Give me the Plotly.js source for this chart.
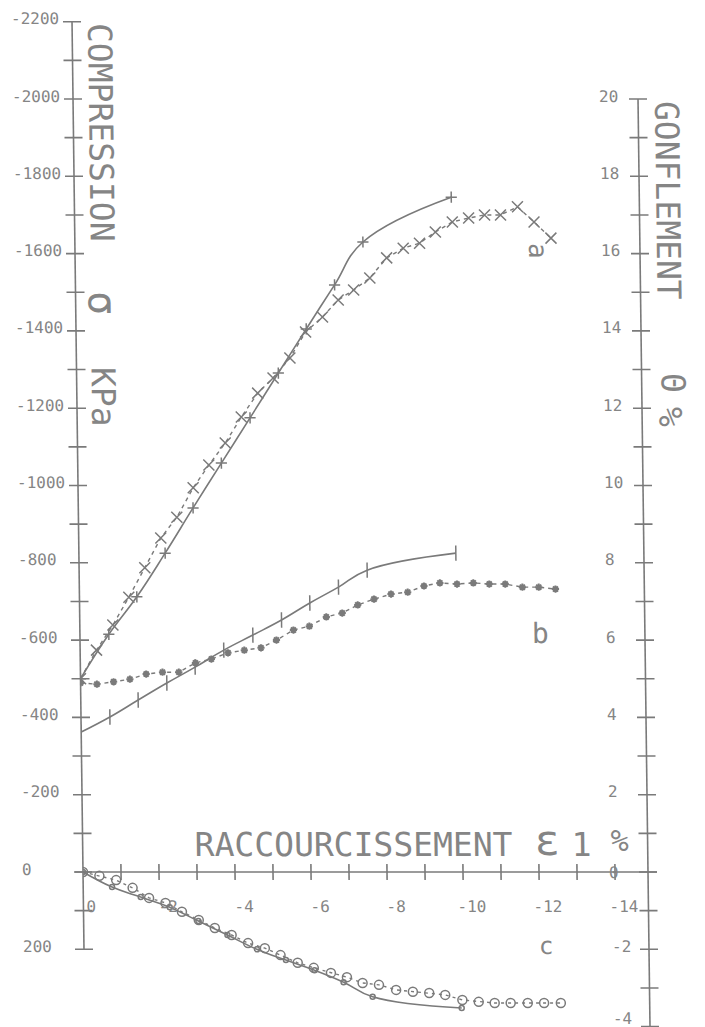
<!DOCTYPE html>
<html>
<head>
<meta charset="utf-8">
<script src="https://cdn.plot.ly/plotly-3.0.1.min.js"></script>
<style>
  html, body { margin: 0; padding: 0; background: #ffffff; }
  #chart { width: 705px; height: 1027px; transform: skewX(0.74deg); transform-origin: 0 872px; }
</style>
</head>
<body>
<div id="chart"></div>
<script>
// ---- data ----
// strain (RACCOURCISSEMENT ε1 %), dense series (dashed curves)
const strainDense = [0, -0.43, -0.87, -1.30, -1.73, -2.16, -2.59, -3.03, -3.45, -3.89, -4.32, -4.76, -5.17, -5.62, -6.04,
  -6.49, -6.91, -7.32, -7.75, -8.20, -8.64, -9.07, -9.49, -9.94, -10.37, -10.79, -11.21, -11.66, -12.09, -12.53];
// strain, sparse series (solid curves)
const strainSparse = [0, -0.76, -1.51, -2.27, -3.02, -3.78, -4.55, -5.31, -6.06, -6.82, -7.58, -9.92];

// curve a : compression σ (kPa)
const aSolid  = [-500, -615, -712, -825, -942, -1058, -1175, -1291, -1405, -1519, -1630, -1746];
const aDashed = [-500, -574, -639, -711, -787, -864, -918, -994, -1053, -1110, -1177, -1239, -1278, -1330, -1397,
  -1436, -1480, -1506, -1537, -1589, -1614, -1627, -1656, -1682, -1692, -1700, -1700, -1721, -1682, -1640];
// curve b : compression σ (kPa)
const bSolid  = [-362, -401, -445, -489, -530, -574, -613, -652, -696, -737, -781, -825];
const bDotted = [-489, -486, -492, -499, -512, -517, -517, -541, -551, -567, -574, -580, -600, -626, -636,
  -660, -670, -691, -706, -719, -724, -740, -748, -745, -748, -745, -745, -737, -737, -732];
// curve c : gonflement θ (%)
const cSolid  = [0, -0.39, -0.65, -0.91, -1.27, -1.63, -2.00, -2.28, -2.54, -2.85, -3.23, -3.52];
const cDashed = [0, -0.10, -0.21, -0.41, -0.67, -0.80, -1.03, -1.24, -1.45, -1.63, -1.84, -1.97, -2.15, -2.35, -2.48,
  -2.61, -2.72, -2.87, -2.92, -3.05, -3.10, -3.13, -3.18, -3.31, -3.36, -3.39, -3.39, -3.39, -3.39, -3.39];

// tick labels
const sigmaTickVals = [-2200, -2000, -1800, -1600, -1400, -1200, -1000, -800, -600, -400, -200, 0, 200];
const sigmaTickText = ["-2200", "-2000", "-1800", "-1600", "-1400", "-1200", "-1000", "-800", "-600", "-400", "-200", "0", "200"];
const thetaTickVals = [20, 18, 16, 14, 12, 10, 8, 6, 4, 2, 0, -2, -4];
const thetaTickText = ["20", "18", "16", "14", "12", "10", "8", "6", "4", "2", "0", "-2", "-4"];
const strainTickVals = [0, -2, -4, -6, -8, -10, -12, -14];
const strainTickText = ["0", "-2", "-4", "-6", "-8", "-10", "-12", "-14"];

// ---- layout geometry ----
const W = 705, H = 1027, L = 83, R = 648;
const PW = R - L;
const px = v => (v - L) / PW;          // pixel x -> paper
const py = v => (H - v) / H;           // pixel y -> paper
const ink = '#7a7a7a';
const txt = '#858585';
const mono = 'DejaVu Sans Mono, Liberation Mono, monospace';

const solidLine = { color: ink, width: 1.6, shape: 'spline', smoothing: 1.2 };
const traces = [
  { x: strainSparse, y: aSolid, mode: 'lines+markers', line: solidLine,
    marker: { symbol: 'cross-thin', size: 8, color: ink, line: { width: 1.5, color: ink } } },
  { x: strainDense, y: aDashed, mode: 'lines+markers', line: { color: ink, width: 1.4, dash: '4px,4px' },
    marker: { symbol: 'x-thin', size: 11, color: ink, line: { width: 1.5, color: ink } } },
  { x: strainSparse, y: bSolid, mode: 'lines+markers', line: solidLine,
    marker: { symbol: 'line-ns', size: 11, color: ink, line: { width: 1.5, color: ink } } },
  { x: strainDense, y: bDotted, mode: 'lines+markers', line: { color: ink, width: 1.4, dash: '4px,4px' },
    marker: { symbol: 'asterisk', size: 6, color: ink, line: { width: 2, color: ink } } },
  { x: strainSparse, y: cSolid, yaxis: 'y2', mode: 'lines+markers', line: solidLine,
    marker: { symbol: 'circle-open', size: 5, color: ink, line: { width: 1.5, color: ink } } },
  { x: strainDense, y: cDashed, yaxis: 'y2', mode: 'lines+markers', line: { color: ink, width: 1.4, dash: '3px,4px' },
    marker: { symbol: 'circle-open', size: 9, color: ink, line: { width: 1.5, color: ink } } }
];

const shapes = [];
const lineStyle = { color: ink, width: 1.6 };
// axis lines
shapes.push({ type: 'line', xref: 'paper', yref: 'y', x0: 0, x1: 0, y0: -2200, y1: 200, line: lineStyle });
shapes.push({ type: 'line', xref: 'paper', yref: 'y2', x0: 1, x1: 1, y0: 20, y1: -4.5, line: lineStyle });
shapes.push({ type: 'line', xref: 'paper', yref: 'y', x0: px(75), x1: px(657), y0: 0, y1: 0, line: lineStyle });
// crossing ticks
for (let v = -2200; v <= 200; v += 100) {
  shapes.push({ type: 'line', xref: 'paper', yref: 'y', x0: px(L - 9), x1: px(L + 9), y0: v, y1: v, line: lineStyle });
}
for (let v = 20; v >= -4; v -= 1) {
  shapes.push({ type: 'line', xref: 'paper', yref: 'y2', x0: px(R - 9), x1: px(R + 9), y0: v, y1: v, line: lineStyle });
}
for (let v = -1; v >= -14; v -= 1) {
  shapes.push({ type: 'line', xref: 'x', yref: 'y', x0: v, x1: v, ysizemode: 'pixel', yanchor: 0, y0: -8, y1: 8, line: lineStyle });
}

const annotations = [];
const tickFont = { family: mono, size: 16, color: txt };
sigmaTickVals.forEach((v, i) => annotations.push({ xref: 'paper', yref: 'y', x: px(20), y: v, yshift: 3,
  xanchor: 'left', yanchor: 'middle', text: sigmaTickText[i], showarrow: false, font: tickFont }));
thetaTickVals.forEach((v, i) => annotations.push({ xref: 'paper', yref: 'y2', x: px(v < 0 ? 609 : 607), y: v,
  yshift: v === 0 ? 0 : (v === -4 ? 8 : 3),
  xanchor: 'left', yanchor: 'middle', text: thetaTickText[i], showarrow: false, font: tickFont }));
strainTickVals.forEach((v, i) => annotations.push({ xref: 'x', yref: 'y', x: v, y: 0, xshift: 8, yshift: -34,
  xanchor: 'center', yanchor: 'middle', text: strainTickText[i], showarrow: false, font: tickFont }));

function label(xp, yp, text, size, angle) {
  annotations.push({ xref: 'paper', yref: 'paper', x: px(xp), y: py(yp), xanchor: 'center', yanchor: 'middle',
    text: text, textangle: angle || 0, showarrow: false, font: { family: mono, size: size, color: txt } });
}
// axis titles
label(110, 132, 'COMPRESSION', 33, 90);
label(110, 303, 'σ', 40, 90);
label(110, 397, 'KPa', 33, 90);
label(676, 200, 'GONFLEMENT', 33, 90);
label(680, 383, 'Θ', 33, 90);
label(677, 417, '%', 33, 90);
label(354, 844, 'RACCOURCISSEMENT', 33, 0);
label(547, 840, 'ε', 42, 0);
label(582, 844, '1', 33, 0);
label(620, 840, '%', 30, 0);
// curve labels
label(546, 251, 'a', 26, 90);
label(543, 633, 'b', 28, 0);
label(545, 946, 'c', 24, 0);

const layout = {
  width: W, height: H,
  margin: { l: L, r: W - R, t: 0, b: 0, pad: 0 },
  paper_bgcolor: '#ffffff', plot_bgcolor: 'rgba(0,0,0,0)',
  showlegend: false,
  xaxis: { range: [0, -PW / 38.0], visible: false, showgrid: false, zeroline: false },
  yaxis: { range: [(H - 872) / 0.3865, -872 / 0.3865], visible: false, showgrid: false, zeroline: false },
  yaxis2: { range: [-(H - 872) / 38.65, 872 / 38.65], overlaying: 'y', side: 'right', visible: false, showgrid: false, zeroline: false },
  shapes: shapes,
  annotations: annotations
};

Plotly.newPlot('chart', traces, layout, { staticPlot: true, displayModeBar: false });
</script>
</body>
</html>
